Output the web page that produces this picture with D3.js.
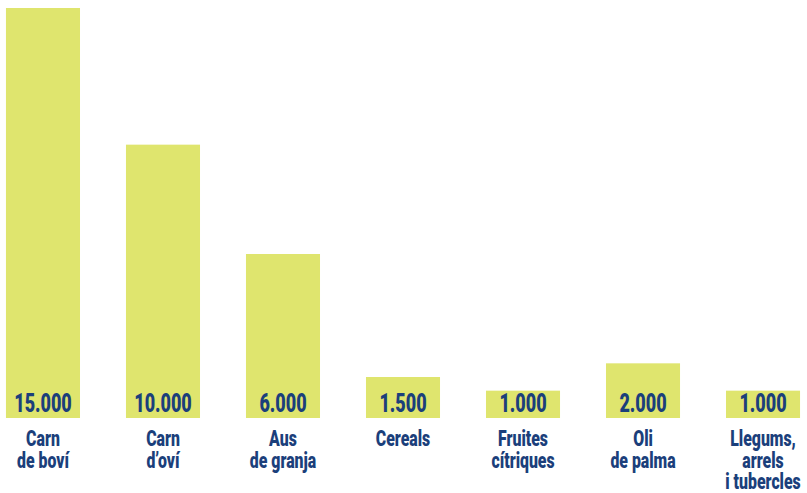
<!DOCTYPE html>
<html><head><meta charset="utf-8">
<script src="https://cdn.jsdelivr.net/npm/d3@7"></script>
<style>
body{margin:0;background:#fff;}
text{font-family:"Roboto",sans-serif;font-weight:900;fill:#1b3f7b;}
</style></head>
<body><svg id="c" width="807" height="493"></svg>
<script>
const categories = [["Carn","de boví"],["Carn","d’oví"],["Aus","de granja"],["Cereals"],["Fruites","cítriques"],["Oli","de palma"],["Llegums,","arrels","i tubercles"]];
const values = [15000,10000,6000,1500,1000,2000,1000];
const valueLabels = ["15.000","10.000","6.000","1.500","1.000","2.000","1.000"];

const svg = d3.select("#c");
const idx = d3.range(values.length);
const x = d3.scaleBand().domain(idx).range([-40,846]).paddingInner(0.383).paddingOuter(0.383);
const y = d3.scaleLinear().domain([0,15000]).range([418,8]);
const sx = 0.72;

svg.selectAll("rect").data(idx).join("rect")
  .attr("x",i=>x(i)).attr("width",x.bandwidth())
  .attr("y",i=>y(values[i])).attr("height",i=>y(0)-y(values[i]))
  .attr("fill","#dfe56e");

const vg = svg.selectAll("g.v").data(idx).join("g").attr("class","v")
  .attr("transform",i=>`translate(${x(i)+x.bandwidth()/2},412) scale(${sx},1)`);
vg.append("text").attr("text-anchor","middle").attr("font-size",25).text(i=>valueLabels[i]);

const cg = svg.selectAll("g.c").data(idx).join("g").attr("class","c")
  .attr("transform",i=>`translate(${x(i)+x.bandwidth()/2},446) scale(${sx},1)`);
cg.each(function(i){
  const t=d3.select(this).append("text").attr("text-anchor","middle").attr("font-size",22);
  categories[i].forEach((line,k)=>{
    t.append("tspan").attr("x",0).attr("y",k*21.7).text(line);
  });
});
</script></body></html>
